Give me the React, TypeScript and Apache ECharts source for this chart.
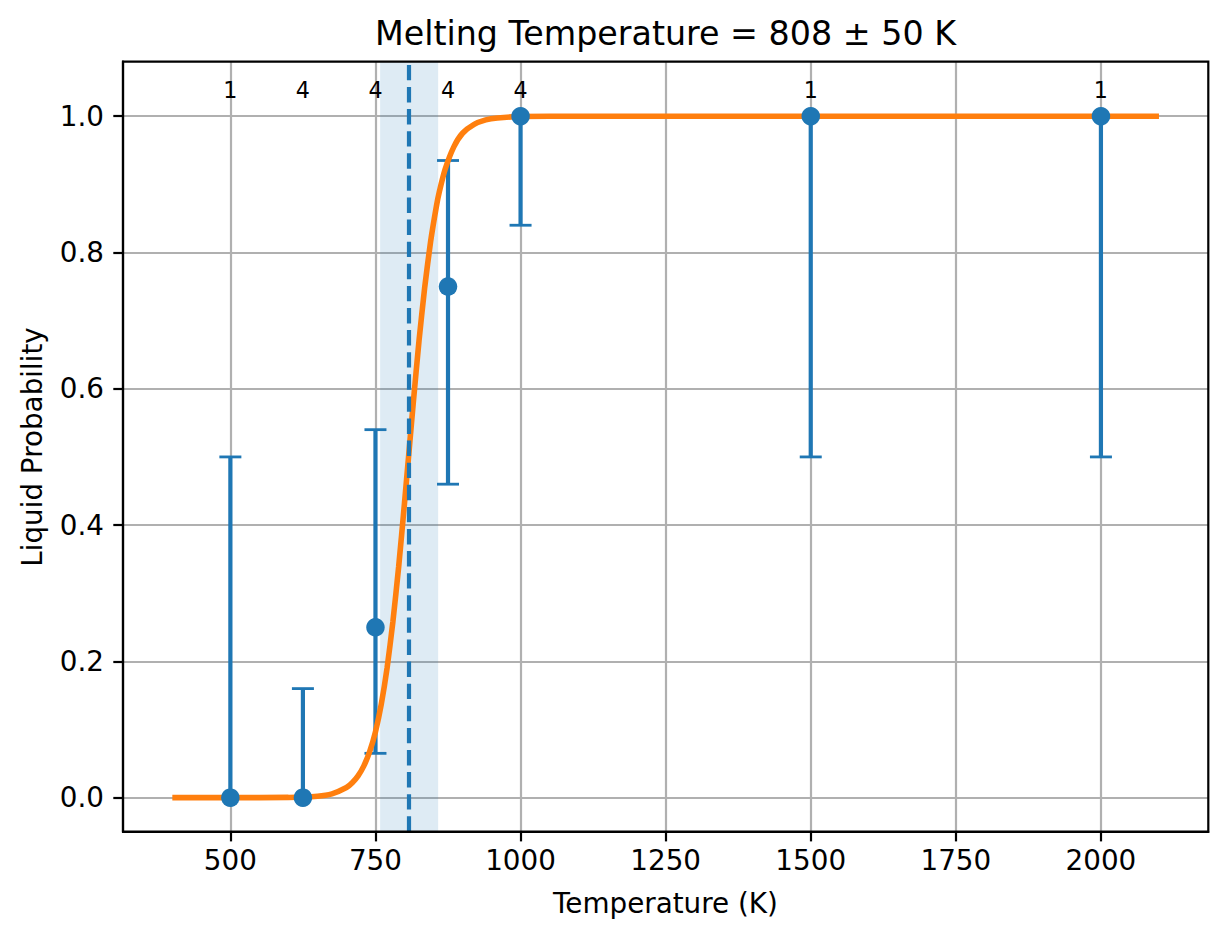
import React, { useEffect, useRef } from "react";
import * as echarts from "echarts";

// ---- data ----
const temps = [500, 625, 750, 875, 1000, 1500, 2000];
const probs = [0, 0, 0.25, 0.75, 1, 1, 1];
const lowers = [0, 0, 0.065, 0.46, 0.84, 0.5, 0.5];
const uppers = [0.5, 0.16, 0.54, 0.935, 1, 1, 1];
const counts = [1, 4, 4, 4, 4, 1, 1];

// fitted curve
const curveT = [400, 500, 600, 650, 675, 700, 710, 720, 730, 740, 750, 760, 770, 780, 790, 800, 807, 815, 825, 835, 845, 855, 860, 870, 885, 900, 920, 940, 960, 1000, 1100, 2100];
const curveP = [0, 0, 0.0003, 0.0021, 0.0056, 0.0148, 0.0218, 0.0319, 0.0466, 0.0674, 0.0966, 0.137, 0.19, 0.258, 0.339, 0.432, 0.5, 0.578, 0.67, 0.75, 0.816, 0.868, 0.889, 0.922, 0.955, 0.975, 0.988, 0.9946, 0.9975, 0.9995, 1, 1];

const meltT = 808;
const meltErr = 50;
const xTicks = [500, 750, 1000, 1250, 1500, 1750, 2000];
const yTicks = [0, 0.2, 0.4, 0.6, 0.8, 1.0];

const C0 = "#1f77b4";
const C1 = "#ff7f0e";
const FONT = "DejaVu Sans";

export default function App() {
  const ref = useRef<HTMLDivElement>(null);
  useEffect(() => {
    document.body.style.margin = "0";
    const chart = echarts.init(ref.current!, null, { renderer: "svg" });
    const errData = temps.map((t, i) => [t, lowers[i], uppers[i]]);
    const labelData = temps.map((t, i) => [t, 1.038, counts[i]]);
    const option: any = {
      animation: false,
      backgroundColor: "#ffffff",
      grid: {
        left: 123,
        right: 18.7,
        top: 61.7,
        bottom: 107.3,
        show: true,
        borderColor: "#000",
        borderWidth: 2.2,
        backgroundColor: "transparent",
        z: 10,
      },
      xAxis: {
        type: "value",
        min: 315,
        max: 2185,
        axisLine: { show: true, onZero: false, lineStyle: { color: "#000", width: 2.2 } },
        axisTick: { show: true, customValues: xTicks, length: 9.7, lineStyle: { color: "#000", width: 2.2 } },
        axisLabel: {
          customValues: xTicks,
          fontSize: 27.8,
          fontFamily: FONT,
          color: "#000",
          margin: 15,
          formatter: (v: number) => String(v),
        },
        splitLine: { show: true, lineStyle: { color: "#b0b0b0", width: 2.2 } },
      },
      yAxis: {
        type: "value",
        min: -0.05,
        max: 1.08,
        axisLine: { show: true, onZero: false, lineStyle: { color: "#000", width: 2.2 } },
        axisTick: { show: true, customValues: yTicks, length: 9.7, lineStyle: { color: "#000", width: 2.2 } },
        axisLabel: {
          customValues: yTicks,
          fontSize: 27.8,
          fontFamily: FONT,
          color: "#000",
          margin: 19,
          formatter: (v: number) => v.toFixed(1),
        },
        splitLine: { show: true, lineStyle: { color: "#b0b0b0", width: 2.2 } },
      },
      graphic: [
        {
          type: "text",
          x: 665.5,
          y: 33.5,
          style: {
            text: "Melting Temperature = " + meltT + " ± " + meltErr + " K",
            fontSize: 33.3,
            fontFamily: FONT,
            fill: "#000",
            align: "center",
            verticalAlign: "middle",
          },
        },
        {
          type: "text",
          x: 665.5,
          y: 903,
          style: {
            text: "Temperature (K)",
            fontSize: 27.8,
            fontFamily: FONT,
            fill: "#000",
            align: "center",
            verticalAlign: "middle",
          },
        },
        {
          type: "text",
          x: 32,
          y: 447,
          rotation: Math.PI / 2,
          style: {
            text: "Liquid Probability",
            fontSize: 27.8,
            fontFamily: FONT,
            fill: "#000",
            align: "center",
            verticalAlign: "middle",
          },
        },
      ],
      series: [
        {
          type: "line",
          data: [],
          z: 1,
          markArea: {
            silent: true,
            itemStyle: { color: "rgba(31,119,180,0.15)" },
            data: [[{ xAxis: meltT - meltErr }, { xAxis: meltT + meltErr }]],
          },
          markLine: {
            silent: true,
            symbol: "none",
            label: { show: false },
            lineStyle: { color: C0, width: 4.2, type: [15.4, 6.7] },
            data: [{ xAxis: meltT }],
          },
        },
        {
          type: "custom",
          z: 2,
          data: errData,
          renderItem: (params: any, api: any) => {
            const x = api.value(0);
            const lo = api.coord([x, api.value(1)]);
            const hi = api.coord([x, api.value(2)]);
            const cap = 11;
            return {
              type: "group",
              children: [
                { type: "line", shape: { x1: lo[0], y1: lo[1], x2: hi[0], y2: hi[1] }, style: { stroke: C0, lineWidth: 4.2 } },
                { type: "line", shape: { x1: lo[0] - cap, y1: lo[1], x2: lo[0] + cap, y2: lo[1] }, style: { stroke: C0, lineWidth: 2.8 } },
                { type: "line", shape: { x1: hi[0] - cap, y1: hi[1], x2: hi[0] + cap, y2: hi[1] }, style: { stroke: C0, lineWidth: 2.8 } },
              ],
            };
          },
        },
        {
          type: "line",
          z: 3,
          data: curveT.map((t, i) => [t, curveP[i]]),
          showSymbol: false,
          symbol: "none",
          smooth: 0.2,
          lineStyle: { color: C1, width: 5.6 },
          itemStyle: { color: C1 },
        },
        {
          type: "scatter",
          z: 4,
          data: temps.map((t, i) => [t, probs[i]]),
          symbol: "circle",
          symbolSize: 18.5,
          itemStyle: { color: C0, opacity: 1 },
        },
        {
          type: "custom",
          z: 5,
          data: labelData,
          renderItem: (params: any, api: any) => {
            const p = api.coord([api.value(0), api.value(1)]);
            return {
              type: "text",
              x: p[0],
              y: p[1],
              style: {
                text: String(api.value(2)),
                fontSize: 22.2,
                fontFamily: FONT,
                fill: "#000",
                align: "center",
                verticalAlign: "middle",
              },
            };
          },
        },
      ],
    };
    chart.setOption(option);
    return () => chart.dispose();
  }, []);
  return (
    <div
      ref={ref}
      style={{ position: "fixed", left: 0, top: 0, width: 1227, height: 939, background: "#fff" }}
    />
  );
}
